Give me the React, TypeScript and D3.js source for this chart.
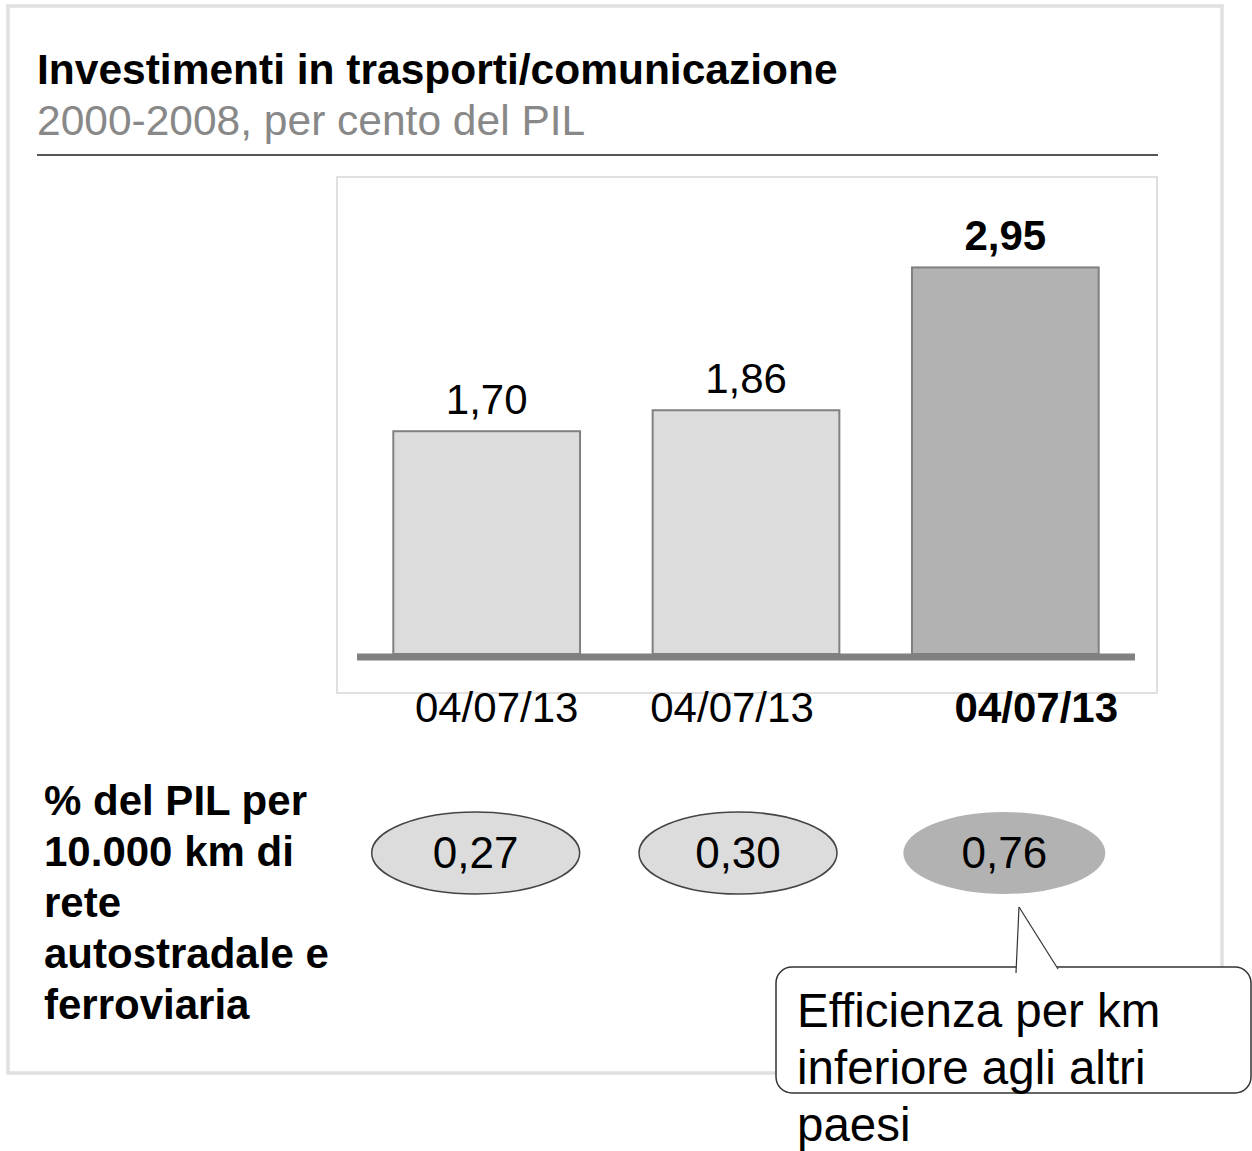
import React from "react";
import * as d3 from "d3";

const categories = ["04/07/13", "04/07/13", "04/07/13"];
const investValues = [1.7, 1.86, 2.95];
const investLabels = ["1,70", "1,86", "2,95"];
const perKmLabels = ["0,27", "0,30", "0,76"];
const highlight = [false, false, true];
const title = "Investimenti in trasporti/comunicazione";
const subtitle = "2000-2008, per cento del PIL";
const sideLabel = ["% del PIL per", "10.000 km di", "rete", "autostradale e", "ferroviaria"];
const calloutLines = ["Efficienza per km", "inferiore agli altri", "paesi"];

const FONT = "'Liberation Sans', Arial, Helvetica, sans-serif";

export default function App() {
  const W = 1252;
  const H = 1151;
  const x = d3
    .scaleBand<number>()
    .domain(investValues.map((_, i) => i))
    .range([357, 1135])
    .paddingInner(0.28)
    .paddingOuter(0.14);
  const y = d3.scaleLinear().domain([0, 3.64]).range([654, 177]);

  const catDx = [10, -14, 31];
  const ellDx = [-11, -8, -1];
  const ellRx = [104, 99, 101];

  // callout geometry
  const bx = 776, by = 967, bw = 475, bh = 126, br = 16;
  const tip = { x: 1019, y: 907 };
  const legL = { x: 1016, y: 973 };
  const legR = { x: 1058, y: 969 };

  return (
    <svg
      width={W}
      height={H}
      style={{ position: "absolute", left: 0, top: 0, background: "#fff" }}
      fontFamily={FONT}
    >
      <rect x={0} y={0} width={W} height={H} fill="#fff" />
      {/* outer frame */}
      <rect x={8} y={6} width={1214} height={1067} fill="none" stroke="#e0e0e0" strokeWidth={3.5} />

      <text x={37} y={84} fontSize={42.5} fontWeight="bold" fill="#000">
        {title}
      </text>
      <text x={37} y={135} fontSize={42.5} fill="#888">
        {subtitle}
      </text>
      <line x1={37} x2={1158} y1={155} y2={155} stroke="#555" strokeWidth={2} />

      {/* plot area */}
      <rect x={337} y={177} width={820} height={516} fill="none" stroke="#d6d6d6" strokeWidth={1.5} />

      {investValues.map((v, i) => (
        <g key={i}>
          <rect
            x={x(i)!}
            y={y(v)}
            width={x.bandwidth()}
            height={y(0) - y(v)}
            fill={highlight[i] ? "#b2b2b2" : "#dcdcdc"}
            stroke="#808080"
            strokeWidth={2}
          />
          <text
            x={x(i)! + x.bandwidth() / 2}
            y={y(v) - 17}
            textAnchor="middle"
            fontSize={42}
            fontWeight={highlight[i] ? "bold" : "normal"}
            fill="#000"
          >
            {investLabels[i]}
          </text>
          <text
            x={x(i)! + x.bandwidth() / 2 + catDx[i]}
            y={722}
            textAnchor="middle"
            fontSize={42}
            fontWeight={highlight[i] ? "bold" : "normal"}
            fill="#000"
          >
            {categories[i]}
          </text>
        </g>
      ))}
      <line x1={357} x2={1135} y1={657} y2={657} stroke="#808080" strokeWidth={7} />

      {/* side label */}
      {sideLabel.map((s, i) => (
        <text key={i} x={44} y={815 + i * 51} fontSize={42} fontWeight="bold" fill="#000">
          {s}
        </text>
      ))}

      {/* ellipses */}
      {perKmLabels.map((s, i) => {
        const cx = x(i)! + x.bandwidth() / 2 + ellDx[i];
        return (
          <g key={i}>
            <ellipse
              cx={cx}
              cy={853}
              rx={ellRx[i]}
              ry={41}
              fill={highlight[i] ? "#b2b2b2" : "#dcdcdc"}
              stroke={highlight[i] ? "none" : "#444"}
              strokeWidth={1.5}
            />
            <text x={cx} y={868} textAnchor="middle" fontSize={44} fill="#000">
              {s}
            </text>
          </g>
        );
      })}

      {/* callout */}
      <rect x={bx} y={by} width={bw} height={bh} rx={br} ry={br} fill="#fff" stroke="#333" strokeWidth={1.5} />
      <polygon
        points={`${legL.x},${by + 1.5} ${tip.x},${tip.y} ${legR.x},${by + 1.5}`}
        fill="#fff"
        stroke="none"
      />
      <line x1={tip.x} y1={tip.y} x2={legL.x} y2={legL.y} stroke="#333" strokeWidth={1.2} />
      <line x1={tip.x} y1={tip.y} x2={legR.x} y2={legR.y} stroke="#333" strokeWidth={1.2} />
      {calloutLines.map((s, i) => (
        <text key={i} x={797} y={1027 + i * 57} fontSize={47.5} fill="#000">
          {s}
        </text>
      ))}
    </svg>
  );
}
